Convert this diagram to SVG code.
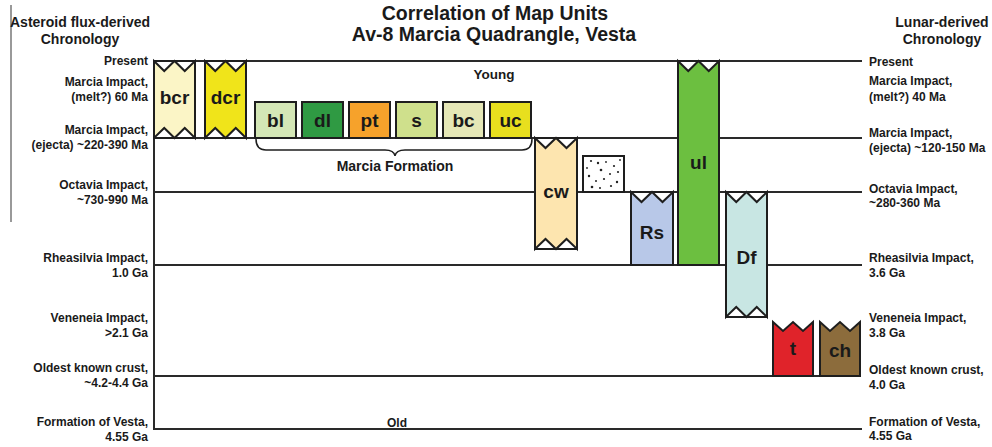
<svg xmlns="http://www.w3.org/2000/svg" width="992" height="447" viewBox="0 0 992 447">
<style>
text{font-family:"Liberation Sans",Arial,sans-serif;font-weight:bold;fill:#1a1a1a}
.lbl{font-size:12px}
.l{text-anchor:end}
.hd{font-size:14px;text-anchor:middle}
.ttl{font-size:19.5px;text-anchor:middle}
.unit{font-size:19px;text-anchor:middle}
.tl{stroke:#2a2a2a;stroke-width:2;fill:none}
.box{stroke:#1e1e1e;stroke-width:2;stroke-linejoin:miter}
.frame{fill:none;stroke:#1e1e1e;stroke-width:2}
</style>
<rect x="0" y="0" width="992" height="447" fill="#ffffff"/>
<line x1="11" y1="5" x2="11" y2="222" stroke="#555" stroke-width="1.2"/>

<g id="title">
<text class="ttl" x="495" y="19.5">Correlation of Map Units</text>
<text class="ttl" x="494" y="41">Av-8 Marcia Quadrangle, Vesta</text>
</g>

<g id="left-axis">
<text class="hd" x="80" y="27">Asteroid flux-derived</text>
<text class="hd" x="80" y="44">Chronology</text>
<text class="lbl l" x="148" y="65">Present</text>
<text class="lbl l" x="148" y="86">Marcia Impact,</text>
<text class="lbl l" x="148" y="101">(melt?) 60 Ma</text>
<text class="lbl l" x="148" y="134">Marcia Impact,</text>
<text class="lbl l" x="148" y="149">(ejecta) ~220-390 Ma</text>
<text class="lbl l" x="148" y="189">Octavia Impact,</text>
<text class="lbl l" x="148" y="204">~730-990 Ma</text>
<text class="lbl l" x="148" y="262">Rheasilvia Impact,</text>
<text class="lbl l" x="148" y="277">1.0 Ga</text>
<text class="lbl l" x="148" y="322">Veneneia Impact,</text>
<text class="lbl l" x="148" y="337">&gt;2.1 Ga</text>
<text class="lbl l" x="148" y="372">Oldest known crust,</text>
<text class="lbl l" x="148" y="387">~4.2-4.4 Ga</text>
<text class="lbl l" x="148" y="426">Formation of Vesta,</text>
<text class="lbl l" x="148" y="441">4.55 Ga</text>
</g>

<g id="right-axis">
<text class="hd" x="942" y="27">Lunar-derived</text>
<text class="hd" x="942" y="44">Chronology</text>
<text class="lbl" x="869" y="66">Present</text>
<text class="lbl" x="869" y="85">Marcia Impact,</text>
<text class="lbl" x="869" y="101">(melt?) 40 Ma</text>
<text class="lbl" x="869" y="137">Marcia Impact,</text>
<text class="lbl" x="869" y="152">(ejecta) ~120-150 Ma</text>
<text class="lbl" x="869" y="193">Octavia Impact,</text>
<text class="lbl" x="869" y="207">~280-360 Ma</text>
<text class="lbl" x="869" y="262">Rheasilvia Impact,</text>
<text class="lbl" x="869" y="277">3.6 Ga</text>
<text class="lbl" x="869" y="322">Veneneia Impact,</text>
<text class="lbl" x="869" y="337">3.8 Ga</text>
<text class="lbl" x="869" y="374">Oldest known crust,</text>
<text class="lbl" x="869" y="389">4.0 Ga</text>
<text class="lbl" x="869" y="426">Formation of Vesta,</text>
<text class="lbl" x="869" y="440">4.55 Ga</text>
</g>

<g id="timelines">
<line class="tl" x1="154" y1="61" x2="154" y2="429"/>
<line class="tl" x1="153" y1="61" x2="862" y2="61"/>
<line class="tl" x1="153" y1="138" x2="862" y2="138"/>
<line class="tl" x1="153" y1="192" x2="862" y2="192"/>
<line class="tl" x1="153" y1="265" x2="862" y2="265"/>
<line class="tl" x1="153" y1="376" x2="860" y2="376"/>
<line class="tl" x1="153" y1="429" x2="862" y2="429"/>
<text x="494" y="79" style="font-size:13.5px;text-anchor:middle">Young</text>
<text x="397" y="427" style="font-size:12px;text-anchor:middle">Old</text>
</g>

<g id="bcr">
<rect x="154" y="61" width="41" height="77" fill="#fff" class="box"/>
<polygon class="box" fill="#fbf5c6" points="154,61 164.25,71 174.5,61 184.75,71 195,61 195,138 184.75,128 174.5,138 164.25,128 154,138"/>
<rect x="154" y="61" width="41" height="77" class="frame"/>
<text class="unit" x="174.5" y="104">bcr</text>
</g>
<g id="dcr">
<rect x="205" y="61" width="41" height="77" fill="#fff" class="box"/>
<polygon class="box" fill="#f0e41a" points="205,61 215.25,71 225.5,61 235.75,71 246,61 246,138 235.75,128 225.5,138 215.25,128 205,138"/>
<rect x="205" y="61" width="41" height="77" class="frame"/>
<text class="unit" x="225.5" y="104">dcr</text>
</g>

<g id="bl"><rect class="box" x="255" y="102" width="41" height="36" fill="#d4e7b6"/><text class="unit" x="275.5" y="127">bl</text></g>
<g id="dl"><rect class="box" x="302" y="102" width="41" height="36" fill="#2f9a43"/><text class="unit" x="322.5" y="127">dl</text></g>
<g id="pt"><rect class="box" x="349" y="102" width="41" height="36" fill="#f6a22b"/><text class="unit" x="369.5" y="127">pt</text></g>
<g id="s"><rect class="box" x="396" y="102" width="41" height="36" fill="#cfe08c"/><text class="unit" x="416.5" y="127">s</text></g>
<g id="bc"><rect class="box" x="443" y="102" width="41" height="36" fill="#e5e7b6"/><text class="unit" x="463.5" y="127">bc</text></g>
<g id="uc"><rect class="box" x="490" y="102" width="41" height="36" fill="#e8df1e"/><text class="unit" x="510.5" y="127">uc</text></g>

<g id="marcia-formation">
<path d="M256,139 Q256,150 266,150 L385,150 Q394,150 395,156 Q396,150 405,150 L522,150 Q532,150 532,139" fill="none" stroke="#1e1e1e" stroke-width="1.5"/>
<text x="395" y="171" style="font-size:14px;text-anchor:middle">Marcia Formation</text>
</g>

<g id="cw">
<rect x="535" y="138" width="42" height="111" fill="#fff" class="box"/>
<polygon class="box" fill="#fde5af" points="535,138 545.5,148 556,138 566.5,148 577,138 577,249 566.5,239 556,249 545.5,239 535,249"/>
<rect x="535" y="138" width="42" height="111" class="frame"/>
<text class="unit" x="556" y="198">cw</text>
</g>

<g id="dotted">
<rect class="box" x="583" y="156" width="41" height="36" fill="#fff"/>
<g fill="#222">
<circle cx="591" cy="161" r="1.1"/><circle cx="598" cy="163" r="1.2"/><circle cx="606" cy="162" r="0.9"/><circle cx="614" cy="166" r="1.1"/>
<circle cx="601" cy="170" r="1.3"/><circle cx="610" cy="174" r="1"/><circle cx="618" cy="172" r="1.1"/><circle cx="589" cy="176" r="1.2"/>
<circle cx="596" cy="181" r="1"/><circle cx="604" cy="179" r="1.1"/><circle cx="617" cy="182" r="1.2"/><circle cx="592" cy="187" r="1.3"/>
<circle cx="600" cy="188" r="1"/><circle cx="611" cy="186" r="1.1"/><circle cx="620" cy="160" r="0.9"/><circle cx="587" cy="168" r="0.9"/>
</g>
</g>

<g id="Rs">
<rect x="631" y="192" width="42" height="73" fill="#fff" class="box"/>
<polygon class="box" fill="#b8c8e8" points="631,192 641.5,202 652,192 662.5,202 673,192 673,265 631,265"/>
<rect x="631" y="192" width="42" height="73" class="frame"/>
<text class="unit" x="652" y="239">Rs</text>
</g>

<g id="ul">
<rect x="678" y="61" width="41" height="204" fill="#fff" class="box"/>
<polygon class="box" fill="#6cbf40" points="678,61 688.25,71 698.5,61 708.75,71 719,61 719,265 678,265"/>
<rect x="678" y="61" width="41" height="204" class="frame"/>
<text class="unit" x="698.5" y="169">ul</text>
</g>

<g id="Df">
<rect x="726" y="192" width="41" height="125" fill="#fff" class="box"/>
<polygon class="box" fill="#c8e6e3" points="726,192 736.25,202 746.5,192 756.75,202 767,192 767,317 756.75,307 746.5,317 736.25,307 726,317"/>
<rect x="726" y="192" width="41" height="125" class="frame"/>
<text class="unit" x="746.5" y="264">Df</text>
</g>

<g id="t">
<polygon class="box" fill="#e0232a" points="773,376 773,322 783,331 793,322 803,331 813,322 813,376"/>
<text class="unit" x="793" y="355">t</text>
</g>
<g id="ch">
<polygon class="box" fill="#8c6c3c" points="820,376 820,322 830,331 840,322 850,331 860,322 860,376"/>
<text class="unit" x="840" y="357">ch</text>
</g>
</svg>
